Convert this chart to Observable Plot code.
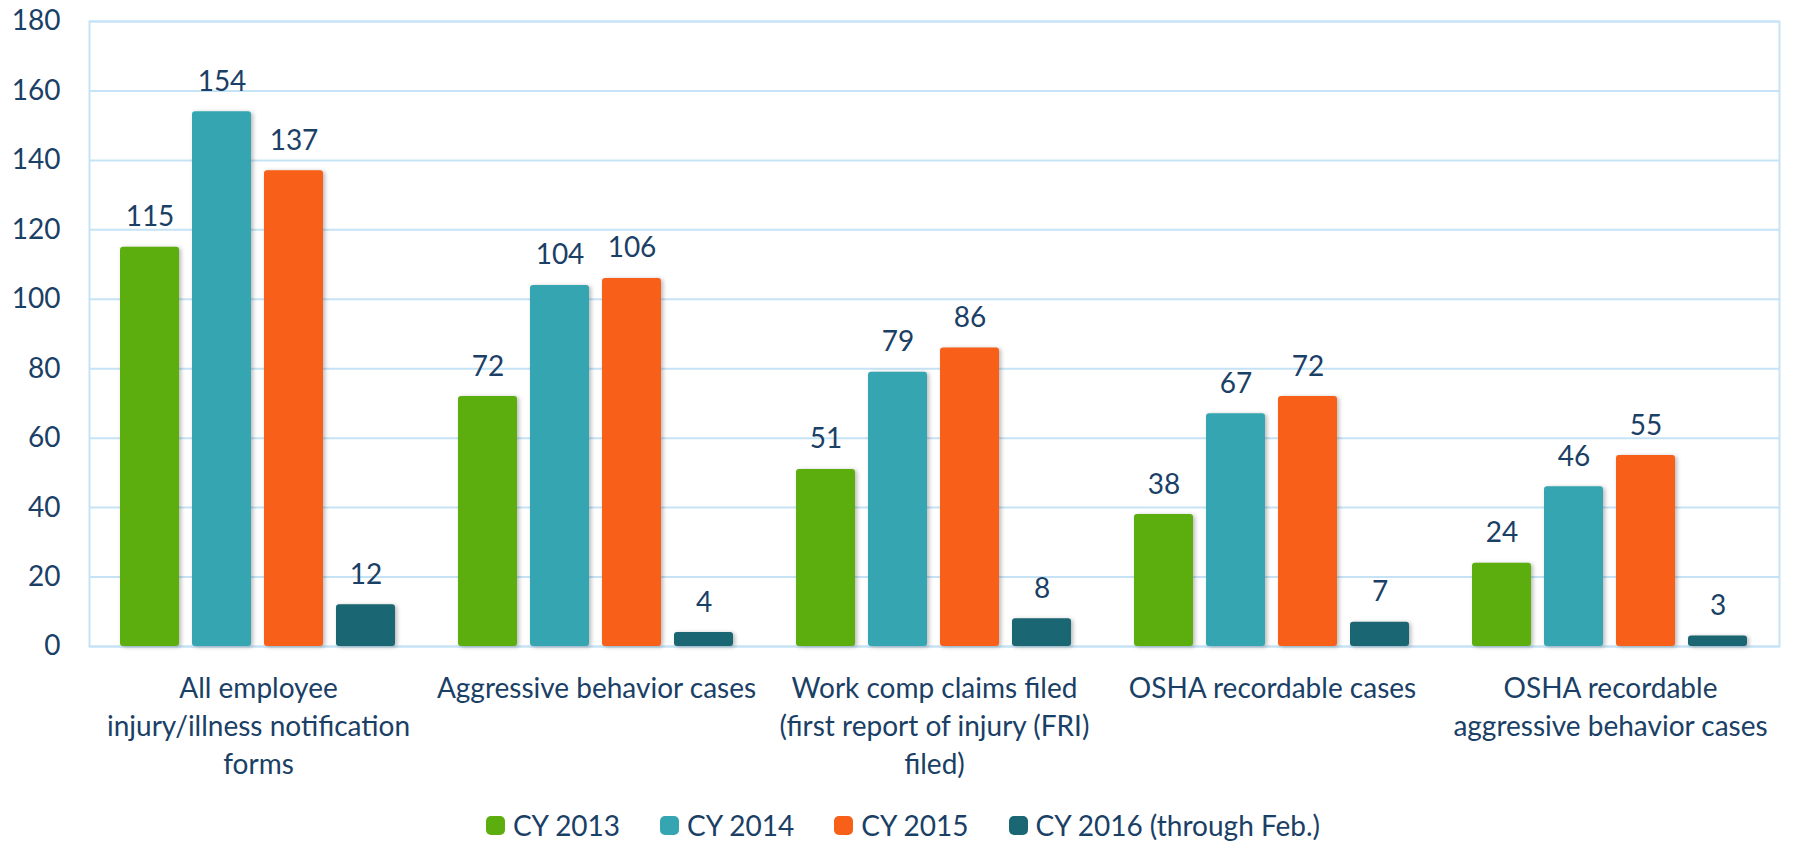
<!DOCTYPE html>
<html>
<head>
<meta charset="utf-8">
<script src="https://cdn.jsdelivr.net/npm/d3@7"></script>
<script src="https://cdn.jsdelivr.net/npm/@observablehq/plot@0.6"></script>
<style>
  html, body { margin: 0; padding: 0; background: #fff; }
  body { width: 1796px; height: 843px; overflow: hidden; font-family: Lato, sans-serif; }
  #legend { display: flex; justify-content: center; align-items: center; height: 40px; margin-top: 15px; padding-left: 10px;
    font-size: 28px; color: #1A4066; font-family: Lato, sans-serif; }
  #legend .item { display: flex; align-items: center; margin: 0 20px; }
  #legend .sw { width: 19px; height: 19px; border-radius: 5px; margin-right: 8px; }
  .bars rect { filter: drop-shadow(2px 1px 2px rgba(0,0,0,0.28)); }
</style>
</head>
<body>
<div id="chart"></div>
<div id="legend"></div>
<script>
const categories = [
  "All employee injury/illness notification forms",
  "Aggressive behavior cases",
  "Work comp claims filed (first report of injury (FRI) filed)",
  "OSHA recordable cases",
  "OSHA recordable aggressive behavior cases"
];
const categoryLabels = [
  "All employee\ninjury/illness notification\nforms",
  "Aggressive behavior cases",
  "Work comp claims filed\n(first report of injury (FRI)\nfiled)",
  "OSHA recordable cases",
  "OSHA recordable\naggressive behavior cases"
];
const series = ["CY 2013", "CY 2014", "CY 2015", "CY 2016 (through Feb.)"];
const colors = ["#5BAE0E", "#35A6B1", "#F85F19", "#1B6673"];
const cy2013 = [115, 72, 51, 38, 24];
const cy2014 = [154, 104, 79, 67, 46];
const cy2015 = [137, 106, 86, 72, 55];
const cy2016 = [12, 4, 8, 7, 3];
const yTicks = [0, 20, 40, 60, 80, 100, 120, 140, 160, 180];

const valuesBySeries = [cy2013, cy2014, cy2015, cy2016];
const data = [];
categories.forEach((c, i) => {
  series.forEach((s, j) => data.push({category: c, series: s, value: valuesBySeries[j][i]}));
});
const labelOf = Object.fromEntries(categories.map((c, i) => [c, categoryLabels[i]]));

const textColor = "#1A4066";
const gridColor = "#C6E3F6";

const chart = Plot.plot({
  width: 1796,
  height: 790,
  marginLeft: 88,
  marginRight: 17,
  marginTop: 21,
  marginBottom: 144,
  style: {fontFamily: "Lato, sans-serif", background: "#fff"},
  fx: {domain: categories, padding: 0, label: null},
  x: {domain: series, paddingInner: 0.178, paddingOuter: 0.425, axis: null},
  y: {domain: [0, 180], label: null},
  color: {domain: series, range: colors},
  marks: [
    Plot.gridY(yTicks, {stroke: gridColor, strokeOpacity: 1, strokeWidth: 2}),
    Plot.frame({facet: "super", stroke: gridColor, strokeWidth: 2}),
    Plot.barY(data, {fx: "category", x: "series", y: "value", fill: "series", rx: 3, className: "bars"}),
    Plot.text(data, {fx: "category", x: "series", y: "value", text: d => String(d.value),
      dy: -21, lineAnchor: "bottom", fontSize: 28, fill: textColor}),
    Plot.axisY(yTicks, {tickSize: 0, tickPadding: 29, fontSize: 28, fill: textColor, label: null}),
    Plot.axisFx({anchor: "bottom", tickSize: 0, tickPadding: 24, fontSize: 28, fill: textColor,
      lineHeight: 1.37, tickFormat: d => labelOf[d], label: null})
  ]
});
document.getElementById("chart").appendChild(chart);

const legend = document.getElementById("legend");
series.forEach((s, j) => {
  const item = document.createElement("div");
  item.className = "item";
  const sw = document.createElement("div");
  sw.className = "sw";
  sw.style.background = colors[j];
  const t = document.createElement("span");
  t.textContent = s;
  item.appendChild(sw);
  item.appendChild(t);
  legend.appendChild(item);
});
</script>
</body>
</html>
